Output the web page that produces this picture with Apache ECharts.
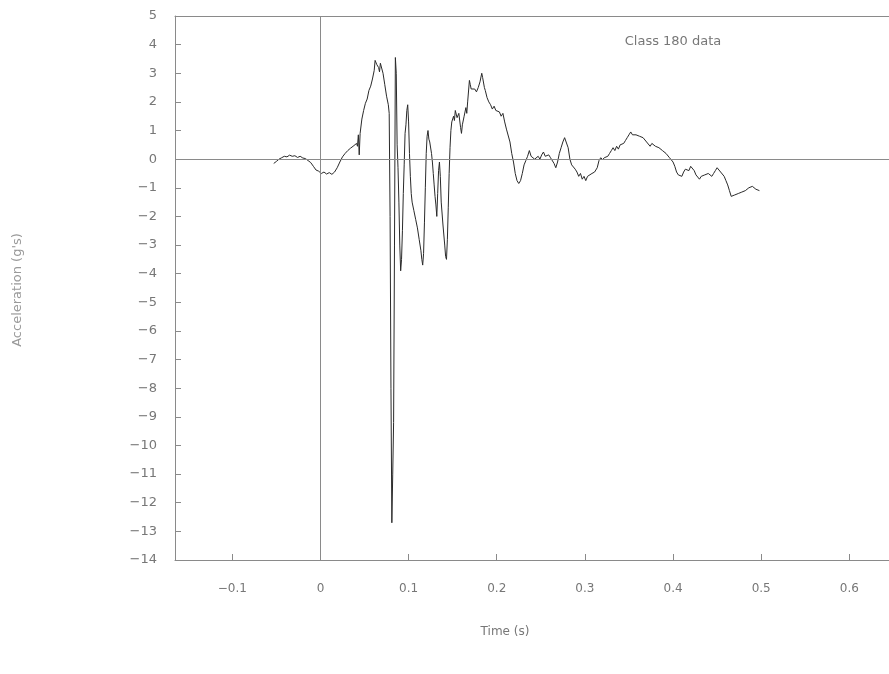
<!DOCTYPE html>
<html>
<head>
<meta charset="utf-8">
<script src="https://cdn.jsdelivr.net/npm/echarts@6/dist/echarts.min.js"></script>
<style>html,body{margin:0;padding:0;background:#fff}#c{width:889px;height:674px}</style>
</head>
<body>
<div id="c"></div>
<script>
const times = [-0.053,-0.050,-0.047,-0.044,-0.041,-0.038,-0.035,-0.032,-0.029,-0.026,-0.023,-0.020,-0.017,-0.014,-0.011,-0.008,-0.005,-0.002,0.001,0.004,0.007,0.010,0.013,0.016,0.019,0.022,0.025,0.028,0.031,0.034,0.037,0.039,0.041,0.042,0.043,0.044,0.045,0.047,0.049,0.051,0.053,0.055,0.057,0.059,0.061,0.062,0.064,0.066,0.067,0.068,0.069,0.070,0.071,0.073,0.075,0.077,0.078,0.079,0.080,0.081,0.082,0.083,0.084,0.085,0.086,0.087,0.088,0.089,0.090,0.091,0.092,0.093,0.094,0.095,0.096,0.097,0.098,0.099,0.100,0.101,0.102,0.103,0.104,0.106,0.108,0.110,0.112,0.114,0.115,0.116,0.117,0.118,0.119,0.120,0.121,0.122,0.123,0.124,0.126,0.127,0.128,0.129,0.130,0.131,0.132,0.133,0.134,0.135,0.136,0.137,0.139,0.141,0.142,0.143,0.144,0.145,0.146,0.147,0.148,0.149,0.151,0.152,0.153,0.155,0.157,0.159,0.160,0.161,0.163,0.165,0.166,0.167,0.169,0.170,0.171,0.173,0.175,0.177,0.179,0.181,0.183,0.184,0.186,0.187,0.189,0.191,0.193,0.195,0.197,0.199,0.201,0.203,0.205,0.207,0.209,0.211,0.213,0.215,0.217,0.219,0.221,0.223,0.225,0.227,0.229,0.231,0.233,0.235,0.237,0.239,0.241,0.243,0.245,0.247,0.249,0.251,0.253,0.255,0.257,0.259,0.261,0.263,0.265,0.267,0.269,0.271,0.273,0.275,0.277,0.279,0.281,0.283,0.285,0.287,0.289,0.291,0.293,0.295,0.297,0.299,0.301,0.303,0.305,0.308,0.311,0.314,0.316,0.318,0.320,0.322,0.324,0.326,0.328,0.330,0.332,0.334,0.336,0.338,0.340,0.342,0.344,0.346,0.348,0.350,0.352,0.354,0.356,0.358,0.360,0.362,0.364,0.366,0.368,0.370,0.372,0.374,0.376,0.378,0.380,0.382,0.384,0.386,0.388,0.390,0.392,0.394,0.396,0.398,0.400,0.402,0.404,0.406,0.408,0.410,0.412,0.414,0.416,0.418,0.420,0.422,0.424,0.426,0.428,0.430,0.432,0.434,0.436,0.438,0.440,0.442,0.444,0.446,0.448,0.450,0.452,0.454,0.456,0.458,0.460,0.462,0.464,0.466,0.468,0.470,0.472,0.474,0.476,0.478,0.480,0.482,0.484,0.486,0.488,0.490,0.492,0.494,0.496,0.498];
const accel = [-0.15,-0.08,0.0,0.05,0.1,0.08,0.14,0.1,0.12,0.06,0.1,0.04,0.02,-0.05,-0.12,-0.25,-0.38,-0.42,-0.5,-0.45,-0.52,-0.47,-0.53,-0.45,-0.3,-0.1,0.08,0.2,0.3,0.38,0.45,0.4,0.55,0.45,0.85,0.15,0.9,1.4,1.7,1.95,2.1,2.4,2.55,2.8,3.1,3.45,3.3,3.2,3.05,3.35,3.3,3.4,3.0,2.6,2.2,1.9,1.6,-2,-8,-12.7,-11,-9.2,-3,3.55,3.0,0.5,-0.3,-1.5,-3.0,-3.9,-3.5,-2.5,-1.2,-0.2,0.9,1.2,1.7,1.9,1.3,0.2,-0.6,-1.2,-1.5,-1.8,-2.1,-2.4,-2.8,-3.2,-3.5,-3.7,-3.3,-2.2,-1.0,0.2,0.8,1.0,0.7,0.6,0.2,-0.1,-0.5,-0.9,-1.3,-1.6,-2.0,-1.2,-0.4,-0.1,-0.6,-1.5,-2.3,-3.0,-3.4,-3.5,-2.8,-1.7,-0.5,0.4,1.0,1.3,1.5,1.35,1.7,1.45,1.6,1.1,0.9,1.2,1.5,1.8,1.6,2.0,2.75,2.6,2.45,2.4,2.45,2.35,2.5,2.7,3.0,2.85,2.5,2.4,2.15,2.0,1.9,1.75,1.85,1.7,1.75,1.65,1.5,1.6,1.3,1.05,1.0,0.6,0.2,-0.1,-0.5,-0.75,-0.85,-0.75,-0.5,-0.2,-0.05,0.1,0.3,0.1,0.05,0.0,0.05,0.1,0.0,0.15,0.25,0.1,0.05,0.15,0.05,0.0,-0.15,-0.3,-0.1,0.2,0.4,0.6,0.75,0.7,0.4,0.0,-0.2,-0.15,-0.35,-0.45,-0.6,-0.5,-0.7,-0.6,-0.75,-0.6,-0.55,-0.5,-0.45,-0.3,-0.05,0.05,-0.02,0.05,0.0,0.1,0.2,0.3,0.4,0.3,0.45,0.35,0.5,0.45,0.55,0.65,0.75,0.85,0.95,0.85,0.9,0.85,0.9,0.8,0.8,0.75,0.7,0.6,0.55,0.45,0.55,0.5,0.45,0.5,0.4,0.35,0.3,0.25,0.2,0.15,0.05,0.0,-0.1,-0.25,-0.45,-0.55,-0.5,-0.6,-0.45,-0.35,-0.3,-0.4,-0.25,-0.2,-0.4,-0.55,-0.6,-0.7,-0.6,-0.65,-0.55,-0.6,-0.5,-0.55,-0.6,-0.5,-0.4,-0.3,-0.35,-0.45,-0.5,-0.6,-0.75,-0.9,-1.1,-1.3,-1.35,-1.25,-1.3,-1.2,-1.25,-1.15,-1.2,-1.1,-1.15,-1.0,-1.05,-0.95,-1.0,-1.05,-1.0,-1.1];
const xTicks = [-0.1,0,0.1,0.2,0.3,0.4,0.5,0.6];
const yMin = -14, yMax = 5;
const xTitle = 'Time (s)';
const yTitle = "Acceleration (g's)";
const annotation = 'Class 180 data';

const fmt = v => (v < 0 ? '\u2212' + String(Math.abs(v)) : String(v));
const chart = echarts.init(document.getElementById('c'), null, {renderer: 'canvas'});
const textColor = '#777';
const axisLineStyle = {color: '#8a8a8a', width: 1};
chart.setOption({
  animation: false,
  backgroundColor: '#fff',
  grid: {left: 175, top: 16, right: 0, bottom: 114, containLabel: false},
  xAxis: [{
    type: 'value', min: -0.165, max: 0.645, position: 'bottom',
    axisLine: {show: true, onZero: false, lineStyle: axisLineStyle},
    axisTick: {show: true, inside: true, length: 6, customValues: xTicks, lineStyle: axisLineStyle},
    axisLabel: {show: true, customValues: xTicks, margin: 23, color: textColor, fontSize: 12, fontFamily: 'DejaVu Sans', formatter: fmt},
    splitLine: {show: false}
  }, {
    type: 'value', min: -0.165, max: 0.645, position: 'top',
    axisLine: {show: true, onZero: false, lineStyle: axisLineStyle},
    axisTick: {show: false}, axisLabel: {show: false}, splitLine: {show: false}
  }],
  yAxis: {
    type: 'value', min: yMin, max: yMax, interval: 1,
    axisLine: {show: true, onZero: false, lineStyle: axisLineStyle},
    axisTick: {show: true, inside: true, length: 6, lineStyle: axisLineStyle},
    axisLabel: {margin: 18, color: textColor, fontSize: 13, fontFamily: 'DejaVu Sans', formatter: fmt},
    splitLine: {show: false}
  },
  series: [{
    type: 'line',
    data: times.map((t, i) => [t, accel[i]]),
    showSymbol: false,
    lineStyle: {color: '#2a2a2a', width: 1},
    markLine: {
      silent: true, symbol: 'none', label: {show: false},
      lineStyle: {color: '#8a8a8a', width: 1, type: 'solid'},
      data: [{yAxis: 0}, {xAxis: 0}]
    }
  }],
  graphic: [
    {type: 'text', x: 18, y: 290, rotation: Math.PI / 2, style: {text: yTitle, fill: '#9a9a9a', font: '13px "DejaVu Sans"', textAlign: 'center', textVerticalAlign: 'middle'}},
    {type: 'text', x: 505, y: 632, style: {text: xTitle, fill: textColor, font: '12px "DejaVu Sans"', textAlign: 'center', textVerticalAlign: 'middle'}},
    {type: 'text', x: 673, y: 42, style: {text: annotation, fill: textColor, font: '13px "DejaVu Sans"', textAlign: 'center', textVerticalAlign: 'middle'}}
  ]
});
</script>
</body>
</html>
